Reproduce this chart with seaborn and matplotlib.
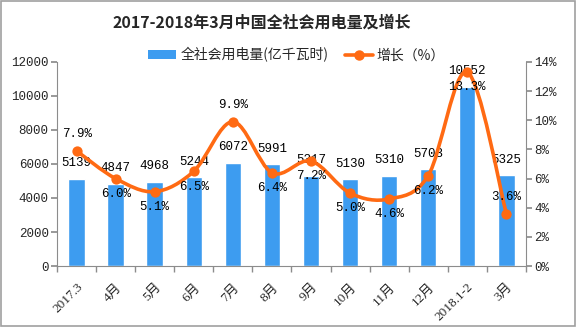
import numpy as np
import pandas as pd
import matplotlib
matplotlib.use("Agg")
import matplotlib.pyplot as plt
import matplotlib.transforms as mtransforms
from matplotlib.path import Path
from matplotlib.patches import PathPatch, Rectangle
from matplotlib.lines import Line2D
from matplotlib.patches import Patch
import seaborn as sns

categories = ["2017.3", "4月", "5月", "6月", "7月", "8月", "9月", "10月", "11月", "12月", "2018.1-2", "3月"]
consumption = [5139, 4847, 4968, 5244, 6072, 5991, 5317, 5130, 5310, 5703, 10552, 5325]
growth = [7.9, 6.0, 5.1, 6.5, 9.9, 6.4, 7.2, 5.0, 4.6, 6.2, 13.3, 3.6]
left_ticks = [0, 2000, 4000, 6000, 8000, 10000, 12000]
right_ticks = [0, 2, 4, 6, 8, 10, 12, 14]
title = "2017-2018年3月中国全社会用电量及增长"
bar_name = "全社会用电量(亿千瓦时)"
line_name = "增长（%）"

sns.set_theme(style="white")
plt.rcParams["font.family"] = ["Noto Sans CJK SC", "DejaVu Sans"]

BLUE = "#3D9CF0"
ORANGE = "#FF6A13"
GRAY = "#8C8C8C"
MONO = ["Liberation Mono", "DejaVu Sans Mono"]

df = pd.DataFrame({"cat": categories, "val": consumption, "g": growth})

fig = plt.figure(figsize=(5.76, 3.27), dpi=100)
ax = fig.add_axes([0.099, 0.1865, 0.814, 0.624])
sns.barplot(data=df, x="cat", y="val", color=BLUE, width=0.42, saturation=1, ax=ax)
ax.set_xlim(-0.5, len(categories) - 0.5)
ax.set_ylim(0, 12000)
ax.set_yticks(left_ticks)
ax.set_yticklabels([str(t) for t in left_ticks], fontfamily=MONO, fontsize=9)
ax.set_xlabel("")
ax.set_ylabel("")
ax.set_xticks(range(len(categories)))
ax.set_xticklabels(categories, rotation=45, ha="right", rotation_mode="anchor",
                   fontsize=9.5, fontfamily=["Liberation Serif", "Noto Sans CJK SC"])
shift = mtransforms.ScaledTranslation(-8 / 100, 0, fig.dpi_scale_trans)
for lab in ax.get_xticklabels():
    lab.set_transform(lab.get_transform() + shift)
ax.tick_params(axis="x", length=0, pad=11)
ax.set_xticks(np.arange(-0.5, len(categories), 1.0), minor=True)
ax.tick_params(axis="x", which="minor", length=4, color=GRAY, direction="out", bottom=True)
ax.tick_params(axis="y", length=4, color=GRAY, direction="out", left=True, pad=2)
for s in ["top", "right"]:
    ax.spines[s].set_visible(False)
for s in ["left", "bottom"]:
    ax.spines[s].set_color(GRAY)
    ax.spines[s].set_linewidth(0.8)

for i, v in enumerate(consumption):
    ax.annotate(str(v), (i, v), xytext=(0, 11), textcoords="offset points",
                ha="center", va="center", fontsize=9, fontfamily=MONO, color="black")

ax2 = ax.twinx()
x = np.arange(len(growth))
y = np.array(growth, dtype=float)
# smooth curve via cubic Bezier (Catmull-Rom control points)
pts = np.column_stack([x, y])
verts = [pts[0]]
codes = [Path.MOVETO]
n = len(pts)
for i in range(n - 1):
    p0 = pts[i - 1] if i > 0 else pts[i]
    p1 = pts[i]
    p2 = pts[i + 1]
    p3 = pts[i + 2] if i + 2 < n else pts[i + 1]
    c1 = p1 + (p2 - p0) / 6.0
    c2 = p2 - (p3 - p1) / 6.0
    verts += [c1, c2, p2]
    codes += [Path.CURVE4] * 3
ax2.add_patch(PathPatch(Path(verts, codes), facecolor="none", edgecolor=ORANGE, lw=2.6, zorder=3))
sns.scatterplot(x=x, y=y, color=ORANGE, s=55, edgecolor=ORANGE, linewidth=0, ax=ax2, zorder=4, legend=False)
ax2.set_xlim(-0.5, len(categories) - 0.5)
ax2.set_ylim(0, 14)
ax2.set_yticks(right_ticks)
ax2.set_yticklabels([f"{t}%" for t in right_ticks], fontfamily=MONO, fontsize=9)
ax2.tick_params(axis="y", length=4, color=GRAY, direction="out", right=True, pad=2)
ax2.set_ylabel("")
for s in ["top", "left", "bottom"]:
    ax2.spines[s].set_visible(False)
ax2.spines["right"].set_color(GRAY)
ax2.spines["right"].set_linewidth(0.8)

above = {0, 4, 11}
for i, g in enumerate(growth):
    off = 12 if i in above else -11
    ax2.annotate(f"{g:.1f}%", (i, g), xytext=(0, off), textcoords="offset points",
                 ha="center", va="center", fontsize=9, fontfamily=MONO, color="black", zorder=5)

fig.text(0.455, 0.932, title, ha="center", va="center", fontsize=11.5, fontweight="bold")

handles = [Patch(facecolor=BLUE, edgecolor="none"),
           Line2D([0], [0], color=ORANGE, lw=2.6, marker="o", markersize=6.5)]
fig.legend(handles, [bar_name, line_name], loc="center", bbox_to_anchor=(0.515, 0.832),
           ncol=2, frameon=False, fontsize=10, handlelength=2.0, handleheight=0.6,
           columnspacing=1.2, handletextpad=0.3)

fig.patches.append(Rectangle((0.001, 0.002), 0.997, 0.995, transform=fig.transFigure,
                             fill=False, edgecolor="#A0A0A0", lw=1.2))
fig.savefig("out.png", dpi=100)
